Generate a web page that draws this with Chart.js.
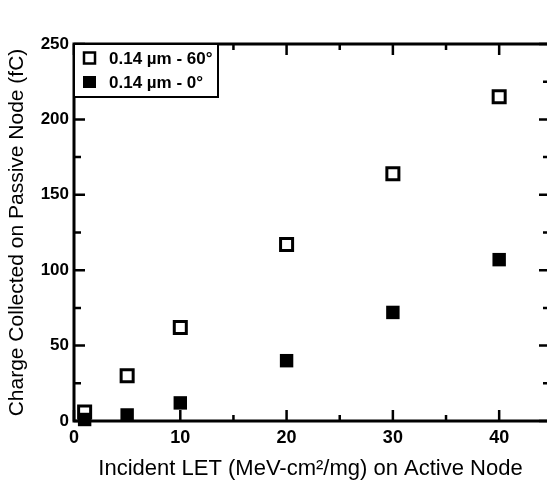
<!DOCTYPE html>
<html>
<head>
<meta charset="utf-8">
<script src="https://cdn.jsdelivr.net/npm/chart.js@4/dist/chart.umd.min.js"></script>
<style>
  html, body { margin: 0; padding: 0; background: #fff; }
</style>
</head>
<body>
<canvas id="chart" width="547" height="480"></canvas>
<script>
// LET values on the active node and collected charge (fC)
const letValues = [1, 5, 10, 20, 30, 40];
const charge60 = [6, 30, 62, 117, 164, 215];
const charge0 = [1, 4, 12, 40, 72, 107];
const seriesLabels = ["0.14 \u00b5m - 60\u00b0", "0.14 \u00b5m - 0\u00b0"];
const xTicks = [0, 10, 20, 30, 40];
const yTicks = [0, 50, 100, 150, 200, 250];

const FONT = "'Liberation Sans', Arial, sans-serif";

const toPoints = (ys) => letValues.map((x, i) => ({ x: x, y: ys[i] }));

// boxed frame with inward ticks on all four sides
const frameTicks = {
  id: "frameTicks",
  beforeDatasetsDraw(chart) {
    const { ctx, chartArea: a, scales: { x, y } } = chart;
    ctx.save();
    ctx.strokeStyle = "#000";
    ctx.lineWidth = 3;
    ctx.beginPath();
    ctx.moveTo(a.right + 2, a.top);
    ctx.lineTo(a.left, a.top);
    ctx.lineTo(a.left, a.bottom);
    ctx.lineTo(a.right + 2, a.bottom);
    ctx.stroke();

    ctx.lineWidth = 2.5;
    ctx.beginPath();
    for (let v = 0; v <= x.max; v += 5) {
      const px = x.getPixelForValue(v);
      const len = v % 10 === 0 ? 11 : 6;
      ctx.moveTo(px, a.bottom);
      ctx.lineTo(px, a.bottom - len);
      ctx.moveTo(px, a.top);
      ctx.lineTo(px, a.top + len);
    }
    for (let v = 0; v <= y.max; v += 25) {
      const py = y.getPixelForValue(v);
      const len = v % 50 === 0 ? 8 : 4;
      ctx.moveTo(a.left, py);
      ctx.lineTo(a.left + len + 3, py);
      ctx.moveTo(a.right, py);
      ctx.lineTo(a.right - len, py);
    }
    ctx.stroke();
    ctx.restore();
  },
  afterDraw(chart) {
    // legend box in the upper-left corner
    const { ctx, chartArea: a } = chart;
    ctx.save();
    ctx.fillStyle = "#fff";
    ctx.fillRect(a.left, a.top, 144, 53);
    ctx.strokeStyle = "#000";
    ctx.lineWidth = 2;
    ctx.strokeRect(a.left, a.top, 144, 53);

    const rows = [a.top + 14, a.top + 38];
    ctx.lineWidth = 2.5;
    ctx.strokeRect(a.left + 10, rows[0] - 5.5, 11, 11);
    ctx.fillStyle = "#000";
    ctx.fillRect(a.left + 9, rows[1] - 6, 13, 12);

    ctx.font = "bold 17px " + FONT;
    ctx.textBaseline = "middle";
    ctx.fillText(seriesLabels[0], a.left + 35, rows[0] + 1);
    ctx.fillText(seriesLabels[1], a.left + 35, rows[1] + 1);
    ctx.restore();
  }
};

const chart = new Chart(document.getElementById("chart").getContext("2d"), {
  type: "scatter",
  data: {
    datasets: [
      {
        label: seriesLabels[0],
        data: toPoints(charge60),
        pointStyle: "rect",
        pointRadius: 8.5,
        pointHoverRadius: 8.5,
        backgroundColor: "#fff",
        borderColor: "#000",
        borderWidth: 3,
        order: 1,
      },
      {
        label: seriesLabels[1],
        data: toPoints(charge0),
        pointStyle: "rect",
        pointRadius: 9.5,
        pointHoverRadius: 9.5,
        backgroundColor: "#000",
        borderColor: "#000",
        borderWidth: 0,
        order: 0,
      },
    ],
  },
  options: {
    responsive: false,
    animation: false,
    clip: false,
    layout: { autoPadding: false, padding: { top: 44, right: 0, bottom: 0, left: 0 } },
    plugins: {
      legend: { display: false },
      tooltip: { enabled: false },
    },
    scales: {
      x: {
        type: "linear",
        min: 0,
        max: 44.5,
        afterBuildTicks: (s) => { s.ticks = xTicks.map((v) => ({ value: v })); },
        afterFit: (s) => { s.height = 59; s.paddingRight = 0; s.paddingLeft = 0; },
        grid: { display: false, drawTicks: false },
        border: { display: false },
        ticks: {
          color: "#000",
          font: { family: FONT, size: 18, weight: "bold" },
          padding: 6,
          maxRotation: 0,
        },
        title: {
          display: true,
          text: "Incident LET (MeV-cm\u00b2/mg) on Active Node",
          color: "#000",
          font: { family: FONT, size: 22 },
          padding: { top: 0, bottom: -2 },
        },
      },
      y: {
        type: "linear",
        min: 0,
        max: 250,
        afterBuildTicks: (s) => { s.ticks = yTicks.map((v) => ({ value: v })); },
        afterFit: (s) => { s.width = 74; },
        grid: { display: false, drawTicks: false },
        border: { display: false },
        ticks: {
          color: "#000",
          font: { family: FONT, size: 17, weight: "bold" },
          padding: 5,
        },
        title: {
          display: true,
          text: "Charge Collected on Passive Node (fC)",
          color: "#000",
          font: { family: FONT, size: 21 },
          padding: { top: 5, bottom: 0 },
        },
      },
    },
  },
  plugins: [frameTicks],
});
</script>
</body>
</html>
